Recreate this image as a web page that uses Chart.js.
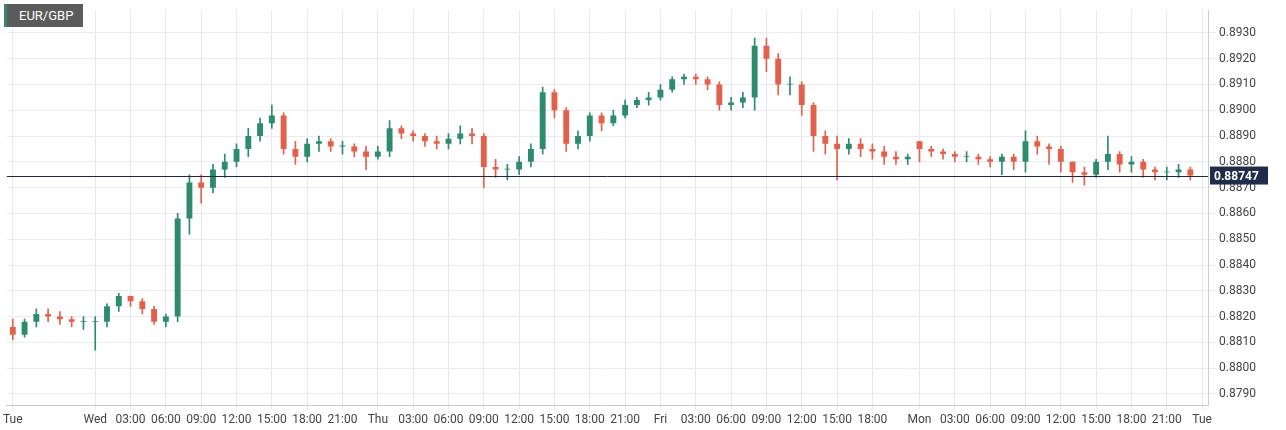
<!DOCTYPE html>
<html>
<head>
<meta charset="utf-8">
<script src="https://cdn.jsdelivr.net/npm/chart.js@4/dist/chart.umd.min.js"></script>
<style>
  body { margin: 0; background: #fff; font-family: Roboto, sans-serif; }
  #wrap { position: relative; width: 1286px; height: 430px; }
  #tag { position: absolute; left: 4px; top: 4px; background: #5b5b5b; color: #fff; font-size: 13px; padding: 4px 10px 4px 12px; border-left: 3px solid #2e8b6e; }
</style>
</head>
<body>
<div id="wrap">
  <canvas id="chart" width="1286" height="430"></canvas>
  <div id="tag">EUR/GBP</div>
</div>
<script>
// hourly candles, Tue 17:00 .. Mon 23:00 (weekend skipped)
var tickLabels = [
  "Tue", "", "", "", "", "", "",
  "Wed", "", "", "03:00", "", "", "06:00", "", "", "09:00", "", "", "12:00", "", "", "15:00", "", "", "18:00", "", "", "21:00", "", "",
  "Thu", "", "", "03:00", "", "", "06:00", "", "", "09:00", "", "", "12:00", "", "", "15:00", "", "", "18:00", "", "", "21:00", "", "",
  "Fri", "", "", "03:00", "", "", "06:00", "", "", "09:00", "", "", "12:00", "", "", "15:00", "", "", "18:00", "", "", "",
  "Mon", "", "", "03:00", "", "", "06:00", "", "", "09:00", "", "", "12:00", "", "", "15:00", "", "", "18:00", "", "", "21:00", "", "",
  "Tue"
];
var opens = [
  0.8816, 0.8813, 0.8818, 0.8821, 0.8820, 0.8819, 0.8818,
  0.8818, 0.8818, 0.8824, 0.8828, 0.8826, 0.8823, 0.8818, 0.8820, 0.8858, 0.8872, 0.8870, 0.8877, 0.8880, 0.8885, 0.8890, 0.8895, 0.8898, 0.8885, 0.8882, 0.8887, 0.8888, 0.8886, 0.8886, 0.8884,
  0.8882, 0.8884, 0.8893, 0.8891, 0.8890, 0.8888, 0.8887, 0.8889, 0.8891, 0.8890, 0.8878, 0.8877, 0.8877, 0.8880, 0.8885, 0.8907, 0.8900, 0.8887, 0.8890, 0.8898, 0.8895, 0.8898, 0.8902, 0.8904,
  0.8905, 0.8908, 0.8912, 0.8913, 0.8912, 0.8910, 0.8902, 0.8903, 0.8905, 0.8925, 0.8920, 0.8910, 0.8910, 0.8902, 0.8890, 0.8887, 0.8885, 0.8887, 0.8885, 0.8884, 0.8882, 0.8881,
  0.8888, 0.8885, 0.8884, 0.8883, 0.8882, 0.8882, 0.8881, 0.8880, 0.8882, 0.8880, 0.8888, 0.8886, 0.8885, 0.8880, 0.8876, 0.8875, 0.8880, 0.8883, 0.8879, 0.8880, 0.8877, 0.8876, 0.8876, 0.8877
];
var closes = [
  0.8813, 0.8818, 0.8821, 0.8820, 0.8819, 0.8818, 0.8818,
  0.8818, 0.8824, 0.8828, 0.8826, 0.8823, 0.8818, 0.8820, 0.8858, 0.8872, 0.8870, 0.8877, 0.8880, 0.8885, 0.8890, 0.8895, 0.8898, 0.8885, 0.8882, 0.8887, 0.8888, 0.8886, 0.8886, 0.8884, 0.8882,
  0.8884, 0.8893, 0.8891, 0.8890, 0.8888, 0.8887, 0.8889, 0.8891, 0.8890, 0.8878, 0.8877, 0.8877, 0.8880, 0.8885, 0.8907, 0.8900, 0.8887, 0.8890, 0.8898, 0.8895, 0.8898, 0.8902, 0.8904, 0.8905,
  0.8908, 0.8912, 0.8913, 0.8912, 0.8910, 0.8902, 0.8903, 0.8905, 0.8925, 0.8920, 0.8910, 0.8910, 0.8902, 0.8890, 0.8887, 0.8885, 0.8887, 0.8885, 0.8884, 0.8882, 0.8881, 0.8882,
  0.8885, 0.8884, 0.8883, 0.8882, 0.8882, 0.8881, 0.8880, 0.8882, 0.8880, 0.8888, 0.8886, 0.8885, 0.8880, 0.8876, 0.8875, 0.8880, 0.8883, 0.8879, 0.8880, 0.8877, 0.8876, 0.8876, 0.8877, 0.88747
];
var highs = [
  0.8819, 0.8819, 0.8823, 0.8823, 0.8822, 0.8820, 0.8820,
  0.8820, 0.8825, 0.8829, 0.8828, 0.8827, 0.8824, 0.8821, 0.8860, 0.8875, 0.8875, 0.8879, 0.8883, 0.8887, 0.8893, 0.8897, 0.8902, 0.8899, 0.8888, 0.8889, 0.8890, 0.8889, 0.8888, 0.8887, 0.8886,
  0.8886, 0.8896, 0.8894, 0.8892, 0.8891, 0.8890, 0.8891, 0.8894, 0.8893, 0.8891, 0.8881, 0.8879, 0.8882, 0.8887, 0.8909, 0.8908, 0.8901, 0.8892, 0.8899, 0.8899, 0.8900, 0.8904, 0.8905, 0.8907,
  0.8910, 0.8913, 0.8914, 0.8914, 0.8913, 0.8911, 0.8905, 0.8907, 0.8928, 0.8928, 0.8922, 0.8913, 0.8911, 0.8903, 0.8892, 0.8890, 0.8889, 0.8889, 0.8887, 0.8886, 0.8884, 0.8883,
  0.8888, 0.8886, 0.8885, 0.8884, 0.8884, 0.8883, 0.8882, 0.8883, 0.8883, 0.8892, 0.8890, 0.8887, 0.8886, 0.8880, 0.8878, 0.8881, 0.8890, 0.8884, 0.8882, 0.8881, 0.8878, 0.8878, 0.8879, 0.8878
];
var lows = [
  0.8811, 0.8812, 0.8816, 0.8818, 0.8817, 0.8816, 0.8815,
  0.8807, 0.8816, 0.8822, 0.8824, 0.8821, 0.8817, 0.8816, 0.8818, 0.8852, 0.8864, 0.8868, 0.8874, 0.8878, 0.8882, 0.8888, 0.8893, 0.8883, 0.8879, 0.8880, 0.8884, 0.8884, 0.8883, 0.8882, 0.8877,
  0.8881, 0.8882, 0.8889, 0.8888, 0.8886, 0.8885, 0.8885, 0.8887, 0.8887, 0.8870, 0.8874, 0.8873, 0.8875, 0.8878, 0.8883, 0.8897, 0.8884, 0.8885, 0.8888, 0.8892, 0.8894, 0.8897, 0.8901, 0.8902,
  0.8904, 0.8907, 0.8910, 0.8910, 0.8908, 0.8900, 0.8900, 0.8901, 0.8900, 0.8915, 0.8906, 0.8906, 0.8898, 0.8884, 0.8883, 0.8873, 0.8883, 0.8882, 0.8881, 0.8879, 0.8879, 0.8879,
  0.8880, 0.8882, 0.8881, 0.8880, 0.8880, 0.8879, 0.8878, 0.8875, 0.8877, 0.8876, 0.8883, 0.8879, 0.8876, 0.8872, 0.8871, 0.8874, 0.8877, 0.8876, 0.8876, 0.8874, 0.8873, 0.8873, 0.8874, 0.8873
];
var lastPrice = 0.88747;

var up = "#2e8b6e", down = "#e2604c";
var colors = closes.map(function(c, i) { return c >= opens[i] ? up : down; });
var wicks = lows.map(function(l, i) { return [l, highs[i]]; });
var bodies = opens.map(function(o, i) {
  var c = closes[i];
  if (Math.abs(c - o) < 0.00003) c = o + 0.00003;
  return [o, c];
});

var lastLine = {
  id: "lastLine",
  afterDatasetsDraw: function(chart) {
    var ctx = chart.ctx, y = chart.scales.y.getPixelForValue(lastPrice), a = chart.chartArea;
    ctx.save();
    ctx.strokeStyle = "#1f2a3a"; ctx.lineWidth = 1;
    ctx.beginPath(); ctx.moveTo(a.left, Math.round(y) + 0.5); ctx.lineTo(a.right, Math.round(y) + 0.5); ctx.stroke();
    ctx.fillStyle = "#1f2d4a";
    ctx.fillRect(a.right + 2, y - 9, 58, 18);
    ctx.fillStyle = "#fff"; ctx.font = "bold 12px Roboto"; ctx.textBaseline = "middle";
    ctx.fillText(lastPrice.toFixed(5), a.right + 6, y + 1);
    ctx.restore();
  }
};

new Chart(document.getElementById("chart").getContext("2d"), {
  type: "bar",
  data: {
    labels: tickLabels,
    datasets: [
      { data: wicks, backgroundColor: colors, barThickness: 1, grouped: false },
      { data: bodies, backgroundColor: colors, barPercentage: 0.5, categoryPercentage: 1, grouped: false }
    ]
  },
  options: {
    responsive: false,
    animation: false,
    layout: { padding: { left: 0, right: 4, top: 0, bottom: 0 } },
    plugins: { legend: { display: false }, tooltip: { enabled: false } },
    scales: {
      x: {
        offset: true,
        grid: { offset: false, tickLength: 4,
          color: function(c) { return c.tick && tickLabels[c.index] ? "#e8e8e8" : "rgba(0,0,0,0)"; } },
        ticks: { autoSkip: false, maxRotation: 0, color: "#444", font: { family: "Roboto", size: 12 },
          callback: function(v, i) { return tickLabels[i]; } },
        border: { color: "#ccc" }
      },
      y: {
        position: "right",
        min: 0.87855, max: 0.89388,
        grid: { color: "#ececec" },
        border: { color: "#ccc" },
        afterBuildTicks: function(axis) {
          var t = [];
          for (var k = 0; k <= 14; k++) t.push({ value: 0.8790 + k * 0.0010 });
          axis.ticks = t;
        },
        ticks: { color: "#444", font: { family: "Roboto", size: 12 }, callback: function(v) { return v.toFixed(4); } },
        afterFit: function(axis) { axis.width = 74; }
      }
    }
  },
  plugins: [lastLine]
});
</script>
</body>
</html>
